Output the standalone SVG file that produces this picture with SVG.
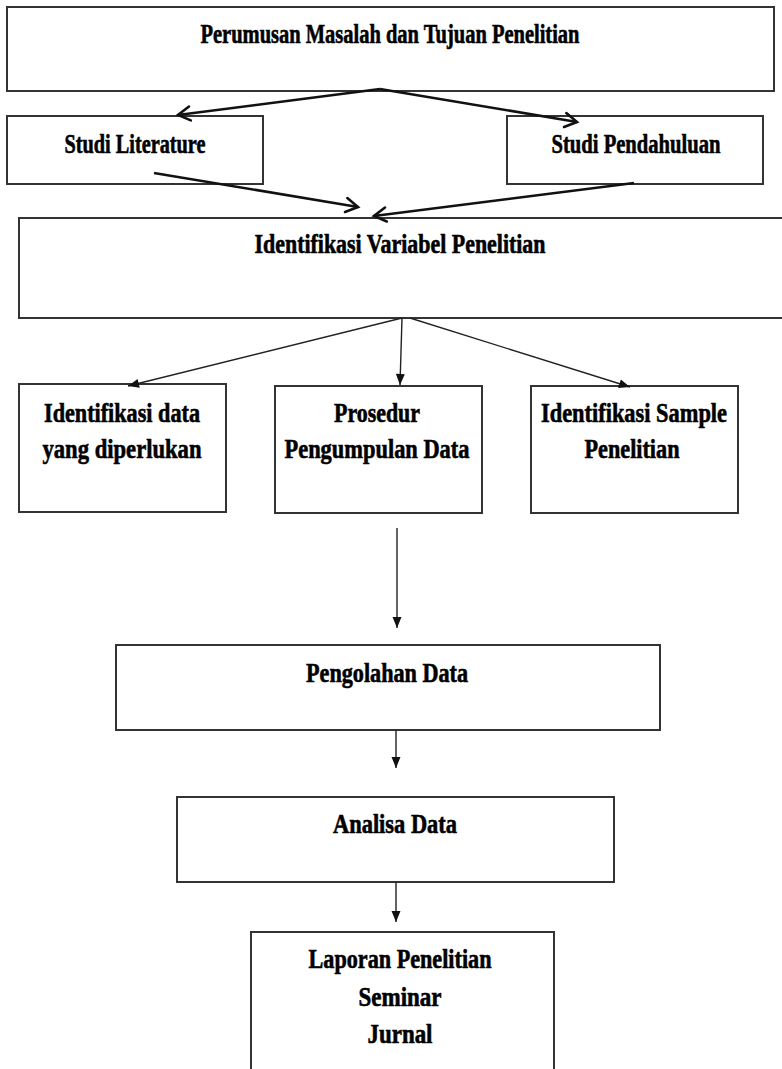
<svg xmlns="http://www.w3.org/2000/svg" width="782" height="1069" viewBox="0 0 782 1069">
<style>
.box{fill:#fff;stroke:#333;stroke-width:2}
.t{font-family:"Liberation Serif","Times New Roman",serif;font-weight:bold;font-size:27px;fill:#000;stroke:#000;stroke-width:0.6;text-anchor:middle}
.thick{fill:none;stroke:#111;stroke-width:2.6;marker-end:url(#openV)}
.thin{fill:none;stroke:#222;stroke-width:1.4;marker-end:url(#tri)}
</style>
<defs>
<marker id="openV" markerUnits="userSpaceOnUse" viewBox="-16 -10 20 20" refX="0" refY="0" markerWidth="20" markerHeight="20" orient="auto">
<path d="M-12,-7 L0,0 L-12,7" fill="none" stroke="#111" stroke-width="2.6" stroke-linecap="round" stroke-linejoin="miter"/>
</marker>
<marker id="tri" markerUnits="userSpaceOnUse" viewBox="-12 -6 14 12" refX="0" refY="0" markerWidth="14" markerHeight="12" orient="auto">
<path d="M-11,-4.5 L0,0 L-11,4.5 Z" fill="#111"/>
</marker>
</defs>
<rect width="782" height="1069" fill="#fff"/>
<g id="n-perumusan"><rect class="box" x="7" y="7" width="767" height="84"/><text class="t" x="390" y="43" textLength="379" lengthAdjust="spacingAndGlyphs">Perumusan Masalah dan Tujuan Penelitian</text></g>
<g id="n-studi-literature"><rect class="box" x="7" y="116" width="256" height="68"/><text class="t" x="135" y="153" textLength="141" lengthAdjust="spacingAndGlyphs">Studi Literature</text></g>
<g id="n-studi-pendahuluan"><rect class="box" x="507" y="116" width="256" height="68"/><text class="t" x="636" y="153" textLength="169" lengthAdjust="spacingAndGlyphs">Studi Pendahuluan</text></g>
<g id="n-identifikasi-variabel"><rect class="box" x="19" y="218" width="790" height="100"/><text class="t" x="400" y="253" textLength="291" lengthAdjust="spacingAndGlyphs">Identifikasi Variabel Penelitian</text></g>
<g id="n-identifikasi-data"><rect class="box" x="19" y="384" width="207" height="128"/><text class="t" x="122" y="422" textLength="156" lengthAdjust="spacingAndGlyphs">Identifikasi data</text><text class="t" x="122" y="458" textLength="159" lengthAdjust="spacingAndGlyphs">yang diperlukan</text></g>
<g id="n-prosedur"><rect class="box" x="275" y="386" width="207" height="127"/><text class="t" x="377" y="422" textLength="86" lengthAdjust="spacingAndGlyphs">Prosedur</text><text class="t" x="377" y="458" textLength="185" lengthAdjust="spacingAndGlyphs">Pengumpulan Data</text></g>
<g id="n-identifikasi-sample"><rect class="box" x="531" y="386" width="207" height="127"/><text class="t" x="634" y="422" textLength="186" lengthAdjust="spacingAndGlyphs">Identifikasi Sample</text><text class="t" x="632" y="458" textLength="95" lengthAdjust="spacingAndGlyphs">Penelitian</text></g>
<g id="n-pengolahan"><rect class="box" x="116" y="645" width="544" height="85"/><text class="t" x="387" y="682" textLength="162" lengthAdjust="spacingAndGlyphs">Pengolahan Data</text></g>
<g id="n-analisa"><rect class="box" x="177" y="797" width="437" height="85"/><text class="t" x="395" y="833" textLength="124" lengthAdjust="spacingAndGlyphs">Analisa Data</text></g>
<g id="n-laporan"><rect class="box" x="251" y="932" width="303" height="160"/><text class="t" x="400" y="968" textLength="183" lengthAdjust="spacingAndGlyphs">Laporan Penelitian</text><text class="t" x="400" y="1006" textLength="83" lengthAdjust="spacingAndGlyphs">Seminar</text><text class="t" x="400" y="1043" textLength="65" lengthAdjust="spacingAndGlyphs">Jurnal</text></g>
<g id="connectors">
<path class="thick" d="M380,89 L178,115"/>
<path class="thick" d="M380,89 L577,122"/>
<path class="thick" d="M154,173 L358,207"/>
<path class="thick" d="M634,183 L374,216"/>
<path class="thin" d="M402,318 L128,386"/>
<path class="thin" d="M402,318 L400,385"/>
<path class="thin" d="M410,318 L630,387"/>
<path class="thin" d="M397,528 L397,628"/>
<path class="thin" d="M396,730 L396,768"/>
<path class="thin" d="M396,882 L396,922"/>
</g>
</svg>
